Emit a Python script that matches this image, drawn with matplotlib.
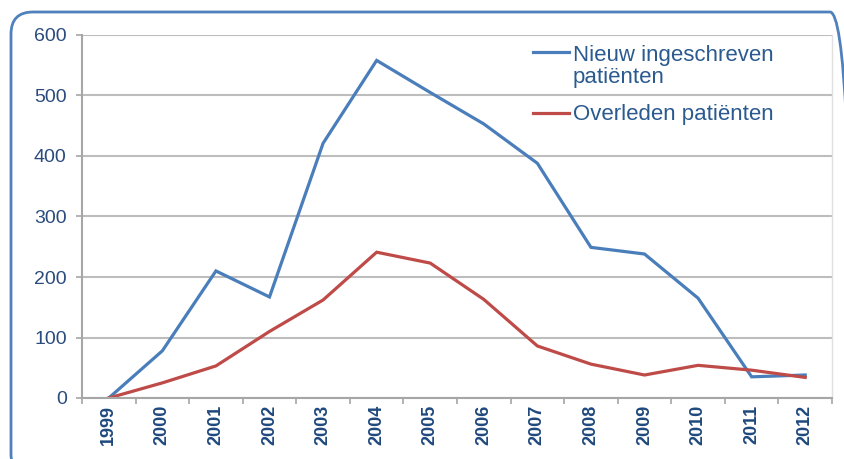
import matplotlib
matplotlib.use("Agg")
import matplotlib.pyplot as plt
from matplotlib.patches import FancyBboxPatch
from matplotlib.transforms import IdentityTransform
from matplotlib.legend_handler import HandlerLine2D
import numpy as np

plt.rcParams['font.family'] = ['Liberation Sans', 'DejaVu Sans']

years = ['1999', '2000', '2001', '2002', '2003', '2004', '2005', '2006',
         '2007', '2008', '2009', '2010', '2011', '2012']
nieuw = [0, 78, 210, 167, 421, 558, 505, 453, 388, 249, 238, 165, 35, 38]
overleden = [0, 25, 53, 110, 162, 241, 223, 163, 86, 56, 38, 54, 46, 34]
yticks = [0, 100, 200, 300, 400, 500, 600]

W, H = 844, 459
fig = plt.figure(figsize=(W / 100, H / 100), dpi=100)

# rounded outer border (pixel coordinates)
bx0, by0, bx1, by1 = 11, 12, 852, 476
border = FancyBboxPatch((bx0, H - by1), bx1 - bx0, by1 - by0,
                        boxstyle="round,pad=0,rounding_size=22",
                        transform=IdentityTransform(), fill=False,
                        edgecolor='#4F81BD', linewidth=2.0)
fig.patches.append(border)

left, right, top, bottom = 82, 832, 35, 398
ax = fig.add_axes([left / W, 1 - bottom / H, (right - left) / W, (bottom - top) / H])

x = np.arange(len(years))
ax.plot(x, nieuw, color='#4A7EBB', lw=2.3, label='Nieuw ingeschreven\npatiënten',
        solid_joinstyle='miter')
ax.plot(x, overleden, color='#BE4B48', lw=2.3, label='Overleden patiënten',
        solid_joinstyle='miter')

ax.set_xlim(-0.5, len(years) - 0.5)
ax.set_ylim(0, 600)
ax.set_yticks(yticks)
ax.set_yticklabels([str(v) for v in yticks])
ax.yaxis.grid(True, color='#BDBDBD', lw=1.5)
ax.set_axisbelow(True)

ax.set_xticks(x)
ax.set_xticklabels(years, rotation=90, fontweight='bold')
ax.set_xticks(np.arange(-0.5, len(years) + 0.5, 1), minor=True)
ax.tick_params(axis='x', which='major', length=0, pad=5, labelsize=13, labelcolor='#1F497D')
ax.tick_params(axis='x', which='minor', length=4, width=1.2, color='#A6A6A6', direction='out')
ax.tick_params(axis='y', length=4, width=1.2, color='#A6A6A6', labelsize=14,
               labelcolor='#2A4B7C', pad=7)

for s in ['left', 'bottom']:
    ax.spines[s].set_color('#A6A6A6')
    ax.spines[s].set_linewidth(1.5)
ax.spines['top'].set_visible(False)
ax.spines['right'].set_color('#E0E0E0')
ax.spines['right'].set_linewidth(1.0)


class TopLineHandler(HandlerLine2D):
    """Place the legend line at the level of the first text line."""
    def __init__(self, shift=0.0, **kw):
        super().__init__(**kw)
        self.shift = shift

    def create_artists(self, legend, orig_handle, xdescent, ydescent, width,
                       height, fontsize, trans):
        arts = super().create_artists(legend, orig_handle, xdescent, ydescent,
                                      width, height, fontsize, trans)
        for a in arts:
            yd = a.get_ydata()
            a.set_ydata(np.asarray(yd) + self.shift * fontsize)
        return arts


lines = ax.get_lines()
leg = ax.legend(loc='upper left', bbox_to_anchor=(533 / W, 1 - 45 / H),
                bbox_transform=fig.transFigure, frameon=False,
                fontsize=16, handlelength=1.6, handletextpad=0.2,
                borderpad=0, borderaxespad=0, labelspacing=0.72,
                handler_map={lines[0]: TopLineHandler(shift=0.66),
                             lines[1]: TopLineHandler(shift=0.0)})
for t in leg.get_texts():
    t.set_color('#2A5A8F')
    t.set_linespacing(1.08)

fig.savefig('out.png', dpi=100)
